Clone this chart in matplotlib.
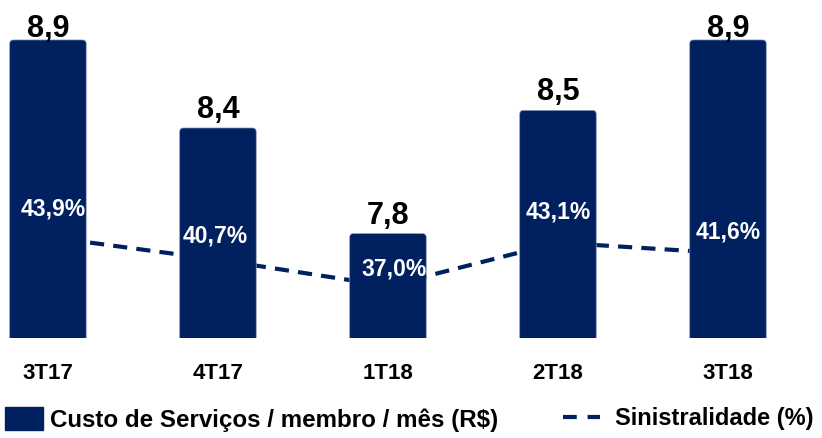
import matplotlib.pyplot as plt
from matplotlib.patches import Patch, FancyBboxPatch
from matplotlib.lines import Line2D

plt.rcParams['font.family'] = ['Liberation Sans', 'DejaVu Sans']
plt.rcParams['font.weight'] = 'bold'

quarters = ['3T17', '4T17', '1T18', '2T18', '3T18']
custo = [8.9, 8.4, 7.8, 8.5, 8.9]
sinistralidade = [43.9, 40.7, 37.0, 43.1, 41.6]

navy = '#002060'
dash = (1, (3.4, 2.2))

fig = plt.figure(figsize=(8.22, 4.38), dpi=100)
ax1 = fig.add_axes([0.0, 0.2283, 1.0, 0.7717])
ax2 = ax1.twinx()
# line sits behind the bars
ax1.set_zorder(2)
ax2.set_zorder(1)
ax1.patch.set_visible(False)

x = list(range(len(quarters)))
bars = ax1.bar(x, custo, width=0.45, color=navy)
ax2.plot(x, sinistralidade, color=navy, linewidth=3, linestyle=dash)

ax1.set_xlim(-0.282, 4.553)
ax1.set_ylim(7.207, 9.127)
ax2.set_ylim(29.67, 77.28)

# swap plain bars for slightly rounded ones
for b in bars:
    bx, by = b.get_xy()
    ax1.add_patch(FancyBboxPatch((bx, by), b.get_width(), b.get_height(),
                                 boxstyle='round,pad=0,rounding_size=0.022',
                                 mutation_aspect=0.966, facecolor=navy,
                                 edgecolor='#8a98b8', linewidth=0.5))
    b.set_visible(False)

fig.canvas.draw()
for i, v in enumerate(custo):
    y_disp = ax1.transData.transform((i, v))[1]
    target = min(y_disp + 10, 438 - 37)
    ax1.annotate(f'{v:.1f}'.replace('.', ','), (i, v),
                 xytext=(0, (target - y_disp) * 0.72),
                 textcoords='offset points', ha='center', va='baseline',
                 fontsize=22, fontweight='bold', color='black')

# label offsets (points)
pct_dx = [3.5, -2, 4.5, 0, 0]
pct_dy = [20, 17, 12.5, 22, 15.5]
for i, v in enumerate(sinistralidade):
    ax1.annotate(f'{v:.1f}%'.replace('.', ','), (i, v), xycoords=ax2.transData,
                 xytext=(pct_dx[i], pct_dy[i]), textcoords='offset points',
                 ha='center', va='center',
                 fontsize=16.5, fontweight='bold', color='white')

for a in (ax1, ax2):
    for s in a.spines.values():
        s.set_visible(False)
    a.set_yticks([])
ax1.set_xticks(x)
ax1.set_xticklabels(quarters, fontsize=16, fontweight='bold')
ax1.tick_params(axis='x', length=0, pad=18)

fig.legend([Patch(facecolor=navy, edgecolor=navy)],
           ['Custo de Serviços / membro / mês (R$)'],
           loc='center left', bbox_to_anchor=(5 / 822, 0.042), frameon=False,
           fontsize=17.4, handlelength=1.56, handleheight=1.04, handletextpad=0.3,
           borderpad=0, borderaxespad=0)
fig.legend([Line2D([0], [0], color=navy, linewidth=3, linestyle=(0, (3.3, 2.6)))],
           ['Sinistralidade (%)'],
           loc='center left', bbox_to_anchor=(563 / 822, 0.045), frameon=False,
           fontsize=17, handlelength=1.57, handletextpad=0.63,
           borderpad=0, borderaxespad=0)

fig.savefig('out.png', dpi=100)
